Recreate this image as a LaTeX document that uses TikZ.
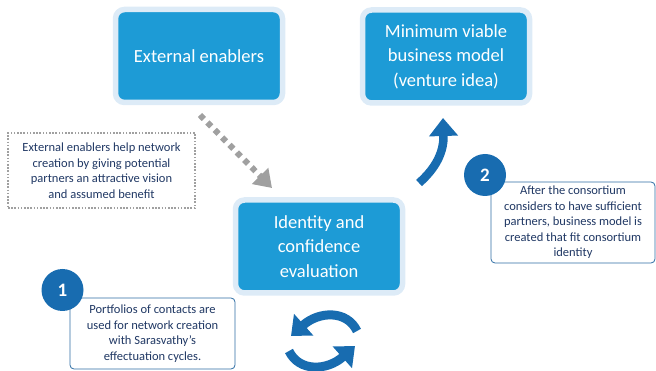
\documentclass[tikz,border=0pt]{standalone}
\usepackage{fontspec}
\setmainfont{Carlito}
\usetikzlibrary{arrows.meta}

\definecolor{boxblue}{RGB}{29,155,214}
\definecolor{framelight}{RGB}{221,235,247}
\definecolor{deepblue}{RGB}{24,108,176}
\definecolor{notetext}{RGB}{32,56,100}
\definecolor{noteline}{RGB}{46,109,164}
\definecolor{dotgray}{RGB}{160,160,160}

\begin{document}
\begin{tikzpicture}[x=1pt,y=-1pt,
  stage/.style={rectangle, rounded corners=9pt, fill=boxblue, draw=framelight,
    line width=5.5pt, minimum width=167pt, minimum height=93pt, align=center,
    text=white, inner sep=0pt, font=\fontsize{18.5}{24.5}\selectfont},
  note/.style={rectangle, rounded corners=4pt, draw=noteline, line width=0.8pt,
    fill=white, align=center, text=notetext, inner sep=0pt,
    font=\fontsize{12.5}{15.5}\selectfont},
  hintbox/.style={rectangle, draw=dotgray, line width=1.8pt,
    dash pattern=on 1.6pt off 1.6pt, align=center, text=notetext, inner sep=0pt,
    font=\fontsize{12.5}{15.5}\selectfont},
  badge/.style={circle, fill=deepblue, minimum size=42pt, inner sep=0pt,
    text=white, font=\fontsize{19}{19}\selectfont\bfseries},
  flow/.style={deepblue, line width=8.5pt, -{Triangle[width=28pt,length=18pt]}},
  cycle/.style={deepblue, line width=9pt, -{Triangle[width=28pt,length=17pt]}},
  hint/.style={dotgray, line width=6pt, dash pattern=on 5.5pt off 5pt,
    -{Triangle[width=22pt,length=17pt]}}
]
\useasboundingbox (0,0) rectangle (656,371);

% stages
\node[stage] (ext)   at (199,56)    {External enablers};
\node[stage] (mvb)   at (446,56.5)  {Minimum viable\\business model\\(venture idea)};
\node[stage] (ident) at (319,246.5) {Identity and\\confidence\\evaluation};

% explanatory notes
\node[hintbox, minimum width=187pt, minimum height=75pt] (hintnote) at (101.5,170.5)
  {External enablers help network\\creation by giving potential\\partners an attractive vision\\and assumed benefit};
\node[note, minimum width=164pt, minimum height=81pt] (consnote) at (573,222.5)
  {After the consortium\\considers to have sufficient\\partners, business model is\\created that fit consortium\\identity};
\node[note, minimum width=165pt, minimum height=71pt] (portnote) at (152.5,333.5)
  {Portfolios of contacts are\\used for network creation\\with Sarasvathy's\\effectuation cycles.};

% numbered badges
\node[badge] (one) at (62.5,290) {1};
\node[badge] (two) at (485,175)  {2};

% enablers feed the evaluation
\coordinate (hs) at (200,115);
\coordinate (he) at (272,188);
\draw[hint] (hs) -- (he);

% evaluation leads to the business model
\coordinate (us) at (419,183);
\coordinate (ue) at (443,118);
\draw[flow] (us) .. controls (436,168) and (444,152) .. (ue);

% effectuation cycle
\coordinate (ca) at (357,331);
\coordinate (cb) at (291,336);
\coordinate (cc) at (289,351);
\coordinate (cd) at (355,346);
\draw[cycle] (ca) .. controls (347,310) and (319,311) .. (cb);
\draw[cycle] (cc) .. controls (299,372) and (327,371) .. (cd);
\end{tikzpicture}
\end{document}
